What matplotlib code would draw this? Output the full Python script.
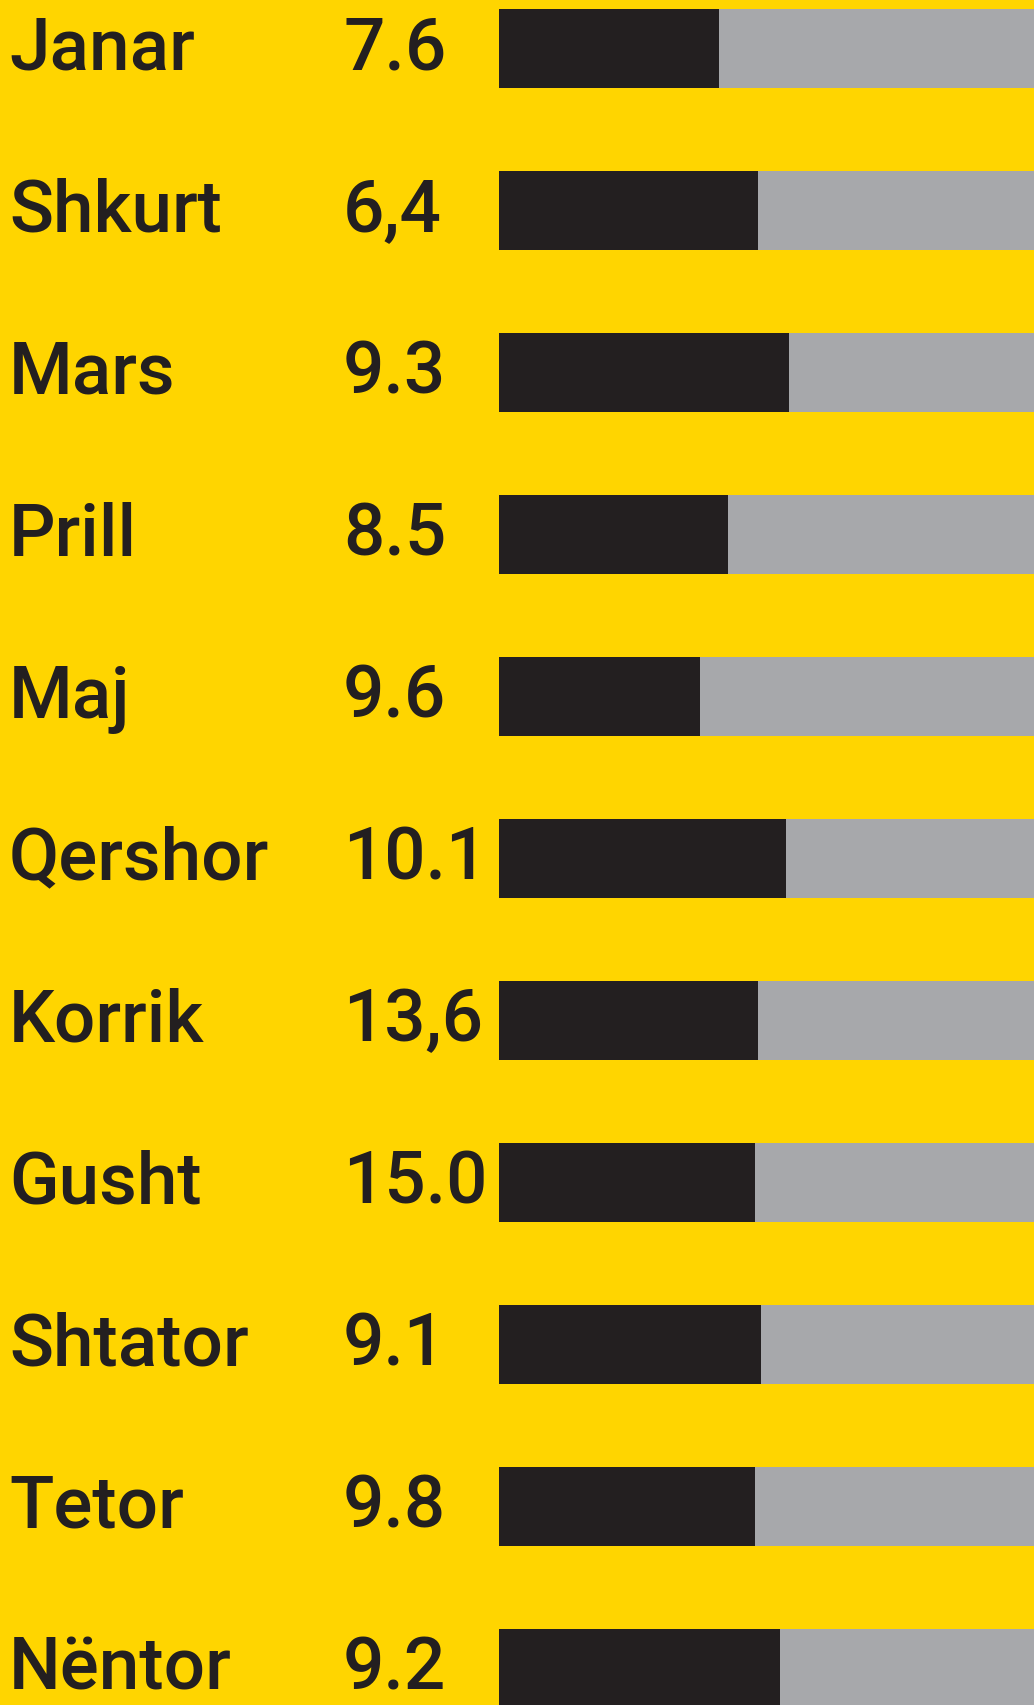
import matplotlib
matplotlib.use("Agg")
import matplotlib.pyplot as plt
import matplotlib.transforms as mtransforms

# ---- data ----
months = ["Janar", "Shkurt", "Mars", "Prill", "Maj", "Qershor",
          "Korrik", "Gusht", "Shtator", "Tetor", "Nëntor"]
value_labels = ["7.6", "6,4", "9.3", "8.5", "9.6", "10.1",
                "13,6", "15.0", "9.1", "9.8", "9.2"]
# share of each bar filled in dark (percent of full bar)
dark_share = [41.1, 48.4, 54.2, 42.8, 37.6, 53.6, 48.4, 47.9, 49.0, 47.9, 52.5]
full_bar = [100] * len(months)

# ---- style ----
BG = "#FFD500"
DARK = "#231F20"
GREY = "#A7A8AB"
plt.rcParams['font.family'] = ['Roboto', 'DejaVu Sans']

W, H = 1034, 1705
fig = plt.figure(figsize=(W / 100, H / 100), dpi=100)
fig.patch.set_facecolor(BG)

step = 162.0
first_center = 48.5
ax = fig.add_axes([499 / W, 0, 1 - 499 / W, 1])
ax.set_facecolor(BG)
ypos = list(range(len(months)))
bar_h = 79 / step
ax.barh(ypos, full_bar, height=bar_h, color=GREY, edgecolor="none")
ax.barh(ypos, dark_share, height=bar_h, color=DARK, edgecolor="none")
ax.set_xlim(0, 100)
ax.set_ylim((H - first_center) / step, -first_center / step)
ax.axis("off")

trans = mtransforms.blended_transform_factory(fig.transFigure, ax.transData)
base_off = 21 / step
for i, (m, v) in enumerate(zip(months, value_labels)):
    ax.text(9 / W, i + base_off, m, transform=trans, ha="left", va="baseline",
            fontsize=52.5, fontweight="medium", color=DARK, clip_on=False)
    ax.text(343 / W, i + base_off, v, transform=trans, ha="left", va="baseline",
            fontsize=52.5, fontweight="medium", color=DARK, clip_on=False)

fig.savefig("out.png", dpi=100, facecolor=BG)
